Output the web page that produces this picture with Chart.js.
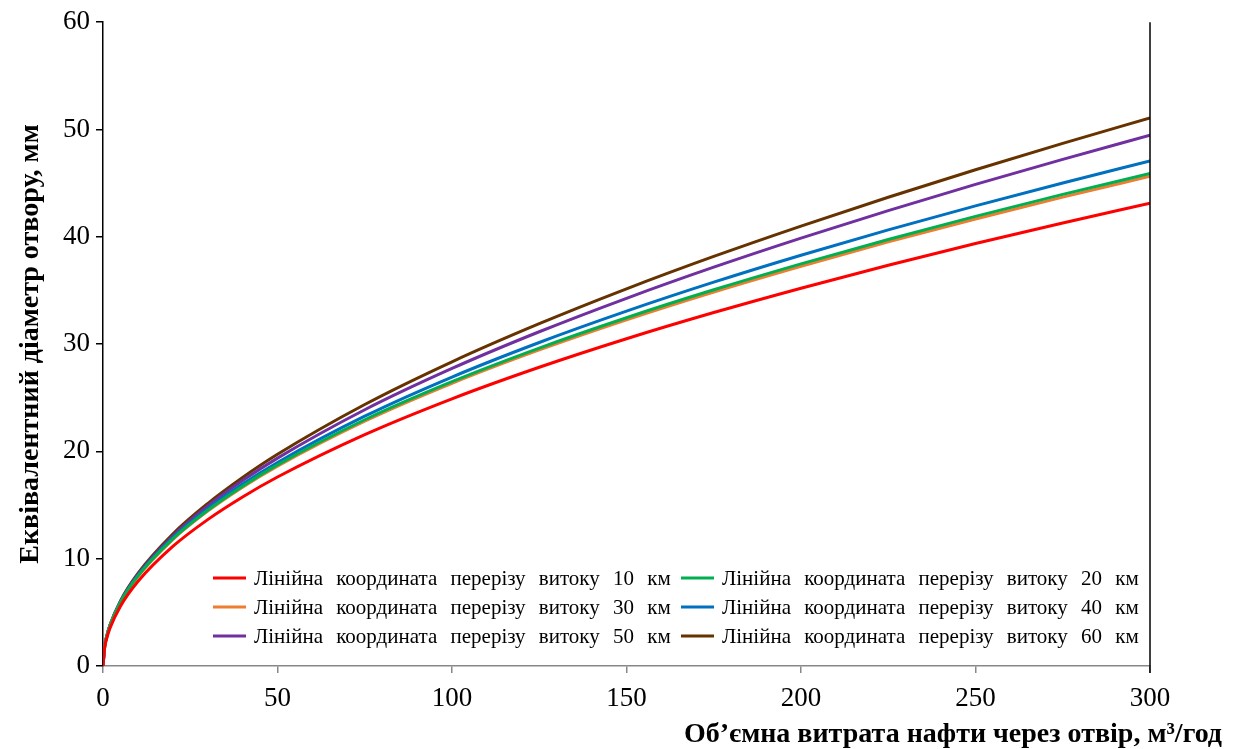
<!DOCTYPE html>
<html>
<head>
<meta charset="utf-8">
<script src="https://cdn.jsdelivr.net/npm/chart.js@4"></script>
<style>
  html, body { margin: 0; padding: 0; background: #fff; }
  #wrap { width: 1239px; height: 749px; position: relative; }
</style>
</head>
<body>
<div id="wrap"><canvas id="chart"></canvas></div>
<script>
// flow rate through the hole, m3/h
const flowRate = [0, 0.5, 1, 2, 5, 10, 20, 30, 40, 50, 75, 100, 125, 150, 175, 200, 225, 250, 275, 300];

// equivalent hole diameter, mm, for each leak position along the line
const d10km = [0, 1.76, 2.49, 3.52, 5.57, 7.87, 11.14, 13.64, 15.75, 17.61, 21.56, 24.90, 27.84, 30.50, 32.94, 35.21, 37.35, 39.37, 41.29, 43.13];
const d20km = [0, 1.87, 2.65, 3.75, 5.93, 8.38, 11.85, 14.51, 16.76, 18.74, 22.95, 26.50, 29.63, 32.46, 35.06, 37.48, 39.75, 41.90, 43.95, 45.90];
const d30km = [0, 1.86, 2.64, 3.73, 5.89, 8.33, 11.78, 14.43, 16.67, 18.63, 22.82, 26.35, 29.46, 32.27, 34.86, 37.26, 39.53, 41.66, 43.70, 45.64];
const d40km = [0, 1.88, 2.66, 3.77, 5.96, 8.44, 11.96, 14.67, 16.96, 18.97, 23.28, 26.93, 30.15, 33.07, 35.77, 38.28, 40.64, 42.88, 45.02, 47.06];
const d50km = [0, 1.89, 2.67, 3.79, 6.00, 8.53, 12.12, 14.91, 17.28, 19.37, 23.88, 27.73, 31.15, 34.27, 37.17, 39.88, 42.44, 44.88, 47.22, 49.46];
const d60km = [0, 1.90, 2.70, 3.82, 6.07, 8.63, 12.30, 15.14, 17.57, 19.73, 24.37, 28.35, 31.90, 35.15, 38.17, 41.00, 43.69, 46.25, 48.71, 51.07];

const seriesLabels = [
  'Лінійна координата перерізу витоку 10 км',
  'Лінійна координата перерізу витоку 20 км',
  'Лінійна координата перерізу витоку 30 км',
  'Лінійна координата перерізу витоку 40 км',
  'Лінійна координата перерізу витоку 50 км',
  'Лінійна координата перерізу витоку 60 км'
];
const seriesValues = [d10km, d20km, d30km, d40km, d50km, d60km];
const seriesColors = ['#ff0000', '#00b050', '#ed7d31', '#0070c0', '#7030a0', '#663300'];

const xTitle = 'Об’ємна витрата нафти через отвір, м³/год';
const yTitle = 'Еквівалентний діаметр отвору, мм';

const serif = '"Liberation Serif", "Times New Roman", serif';

const datasets = seriesValues.map((vals, i) => ({
  label: seriesLabels[i],
  data: flowRate.map((q, j) => ({ x: q, y: vals[j] })),
  borderColor: seriesColors[i],
  backgroundColor: seriesColors[i],
  borderWidth: 3,
  pointRadius: 0,
  cubicInterpolationMode: 'monotone',
  fill: false
}));

// draws text word by word with extra gap between words
function spacedText(ctx, text, x, y, extra) {
  const space = ctx.measureText(' ').width + extra;
  text.split(' ').forEach(word => {
    ctx.fillText(word, x, y);
    x += ctx.measureText(word).width + space;
  });
}

// axis titles, right border and the two-column legend inside the plot
const decorations = {
  id: 'decorations',
  afterDraw(chart) {
    const ctx = chart.ctx;
    const area = chart.chartArea;
    ctx.save();

    ctx.strokeStyle = '#000';
    ctx.lineWidth = 1.5;
    ctx.beginPath();
    ctx.moveTo(area.right, area.top);
    ctx.lineTo(area.right, area.bottom + 7);
    ctx.stroke();

    ctx.fillStyle = '#000';
    ctx.font = 'bold 28px ' + serif;
    ctx.textAlign = 'right';
    ctx.textBaseline = 'alphabetic';
    ctx.fillText(xTitle, 1222, 742);

    ctx.save();
    ctx.translate(38, 344);
    ctx.rotate(-Math.PI / 2);
    ctx.textAlign = 'center';
    ctx.fillText(yTitle, 0, 0);
    ctx.restore();

    ctx.font = '21px ' + serif;
    ctx.textAlign = 'left';
    ctx.textBaseline = 'middle';
    const colX = [213, 681];
    const rowY = [578, 607, 636];
    chart.data.datasets.forEach((ds, i) => {
      const x = colX[i % 2];
      const y = rowY[Math.floor(i / 2)];
      ctx.strokeStyle = ds.borderColor;
      ctx.lineWidth = 3;
      ctx.beginPath();
      ctx.moveTo(x, y);
      ctx.lineTo(x + 33, y);
      ctx.stroke();
      ctx.fillStyle = '#000';
      spacedText(ctx, ds.label, x + 41, y + 1, 8);
    });
    ctx.restore();
  }
};

new Chart(document.getElementById('chart').getContext('2d'), {
  type: 'line',
  data: { datasets },
  options: {
    responsive: true,
    maintainAspectRatio: false,
    animation: false,
    layout: { padding: { top: 19, right: 89, bottom: 0, left: 0 } },
    plugins: {
      legend: { display: false },
      tooltip: { enabled: false }
    },
    scales: {
      x: {
        type: 'linear',
        min: 0,
        max: 300,
        ticks: {
          stepSize: 50,
          color: '#000',
          padding: 10,
          maxRotation: 0,
          font: { family: serif, size: 27 }
        },
        grid: { drawOnChartArea: false, drawTicks: true, tickLength: 7, color: '#888', lineWidth: 1.5 },
        border: { display: true, color: '#888', width: 1.5 },
        afterFit(scale) { scale.height = 83; }
      },
      y: {
        min: 0,
        max: 60,
        ticks: {
          stepSize: 10,
          color: '#000',
          padding: 6,
          font: { family: serif, size: 27 }
        },
        grid: { drawOnChartArea: false, drawTicks: true, tickLength: 7, color: '#000', lineWidth: 1.5 },
        border: { display: true, color: '#000', width: 1.5 },
        afterFit(scale) { scale.width = 103; }
      }
    }
  },
  plugins: [decorations]
});
</script>
</body>
</html>
